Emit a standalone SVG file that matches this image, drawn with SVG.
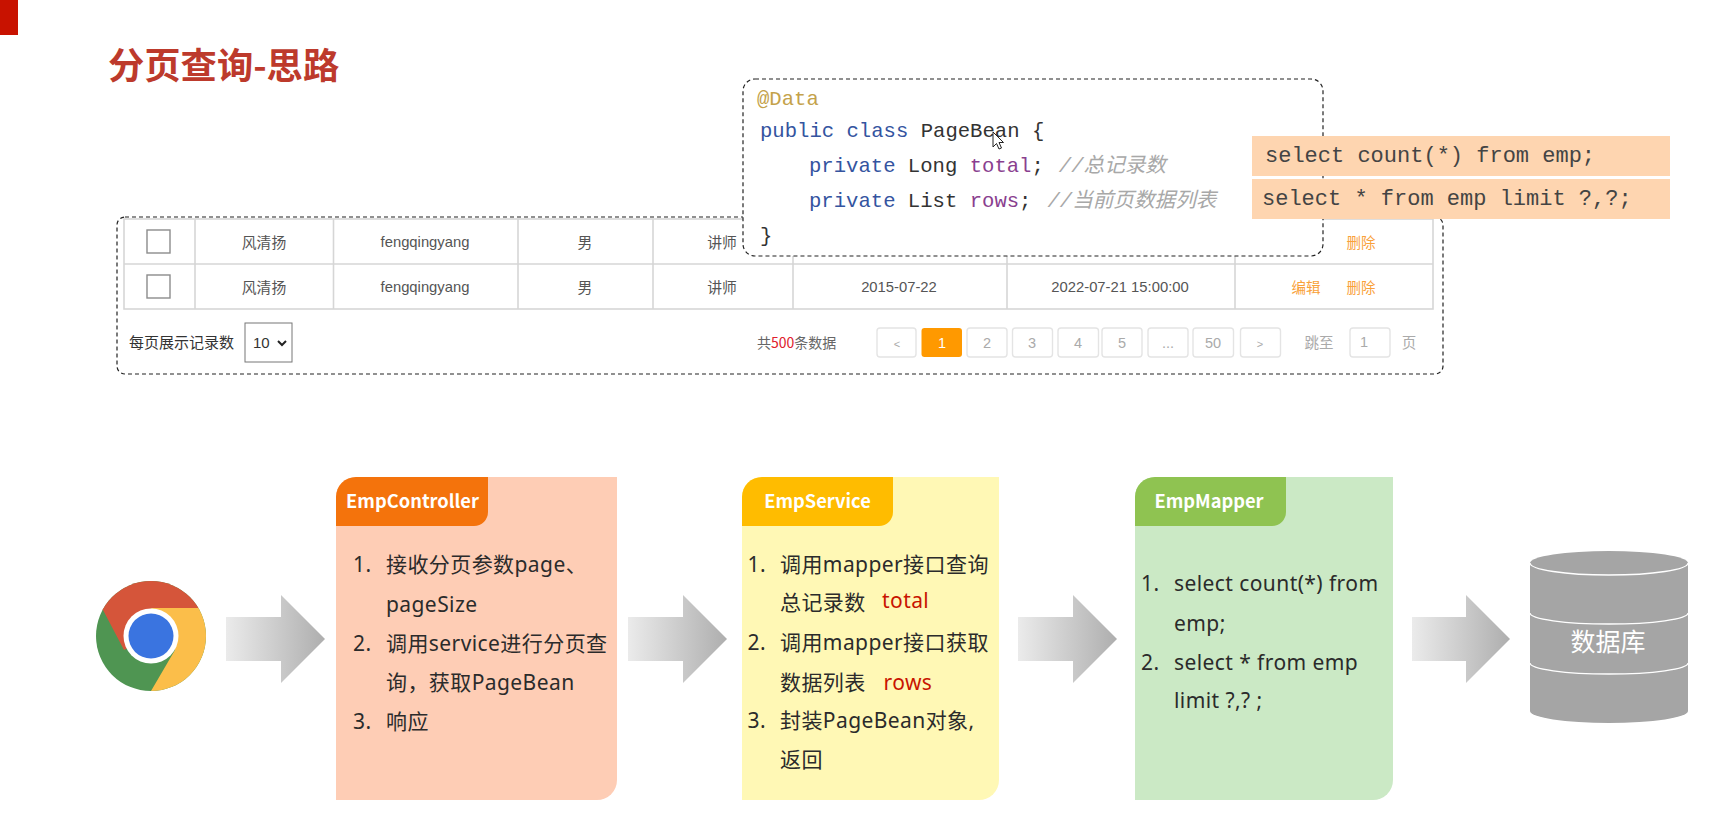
<svg xmlns="http://www.w3.org/2000/svg" width="1725" height="824" viewBox="0 0 1725 824">
<style>
text{font-family:"Noto Sans CJK SC","Noto Sans",sans-serif}
.dash{fill:#fff;stroke:#222;stroke-width:1.2;stroke-dasharray:4 3}
.grid{stroke:#d6d6d6;stroke-width:1.6;fill:none}
.cell{font-family:"Liberation Sans","Noto Sans CJK SC",sans-serif;font-size:14.8px;fill:#555;text-anchor:middle}
.op{font-family:"Noto Sans CJK SC",sans-serif;font-size:14.5px;fill:#f9a13a;text-anchor:middle}
.chk{fill:#fff;stroke:#8c8c8c;stroke-width:1.4}
.btn{fill:#fff;stroke:#e4e4e4;stroke-width:1.4}
.pg{font-family:"Liberation Sans","Noto Sans CJK SC",sans-serif;font-size:14.5px;fill:#aaa;text-anchor:middle}
.code{font-family:"Liberation Mono","Noto Sans CJK SC",monospace;font-size:20.6px;fill:#333}
.kw{fill:#34549f}.fld{fill:#8a3f8f}
.cm{fill:#a8a8a8;font-style:italic;font-size:20.6px}
.sql{font-family:"Liberation Mono",monospace;font-size:22px;fill:#444}
.sqlbox{fill:#fed5b0}
.hd{font-size:18.3px;font-weight:700;fill:#fff;text-anchor:middle}
.li{font-family:"Noto Sans","Noto Sans CJK SC",sans-serif;font-size:21px;letter-spacing:.42px;fill:#2b2b2b}
.red{font-family:"Noto Sans","Noto Sans CJK SC",sans-serif;font-size:21px;letter-spacing:.42px;fill:#c81400}
</style>
<defs>
<linearGradient id="ag" x1="0" x2="1" y1="0" y2="0"><stop offset="0" stop-color="#ebebeb"/><stop offset="1" stop-color="#aeaeae"/></linearGradient>
<clipPath id="cc"><circle cx="151" cy="636" r="55"/></clipPath>
</defs>

<rect x="0" y="0" width="18" height="35" fill="#c81200"/>
<text id="title" x="108" y="79" font-size="36.300" font-weight="700" fill="#bd3a2c">分页查询-思路</text>

<g id="table">
<rect class="dash" x="117" y="217" width="1326" height="157" rx="8"/>
<rect class="grid" x="124" y="219" width="1309" height="90"/>
<path class="grid" d="M124 264H1433M195 219V309M333.500 219V309M518 219V309M653 219V309M793 219V309M1007 219V309M1235 219V309"/>
<rect class="chk" x="147" y="230" width="23" height="23"/>
<rect class="chk" x="147" y="275" width="23" height="23"/>
<text class="cell" x="264" y="248">风清扬</text>
<text class="cell" x="425" y="247">fengqingyang</text>
<text class="cell" x="585" y="248">男</text>
<text class="cell" x="722" y="248">讲师</text>
<text class="op" x="1361" y="248">删除</text>
<text class="cell" x="264" y="293">风清扬</text>
<text class="cell" x="425" y="292">fengqingyang</text>
<text class="cell" x="585" y="293">男</text>
<text class="cell" x="722" y="293">讲师</text>
<text class="cell" x="899" y="292">2015-07-22</text>
<text class="cell" x="1120" y="292">2022-07-21 15:00:00</text>
<text class="op" x="1306" y="293">编辑</text>
<text class="op" x="1361" y="293">删除</text>
<text x="129" y="348" font-size="15" fill="#333">每页展示记录数</text>
<rect x="245" y="323" width="47" height="39" fill="#fff" stroke="#777" stroke-width="1"/>
<text x="253" y="348" font-size="15" fill="#333" style="font-family:'Liberation Sans',sans-serif">10</text>
<path d="M278 341l4 4 4-4" fill="none" stroke="#222" stroke-width="2"/>
<text x="757" y="348" font-size="14" fill="#666">共<tspan fill="#e0202c">500</tspan>条数据</text>
<rect class="btn" x="877" y="328" width="39" height="29" rx="3"/>
<rect x="921.500" y="328" width="40.500" height="29" rx="3" fill="#ff9900"/>
<rect class="btn" x="967" y="328" width="40" height="29" rx="3"/>
<rect class="btn" x="1012.500" y="328" width="40" height="29" rx="3"/>
<rect class="btn" x="1058" y="328" width="40.500" height="29" rx="3"/>
<rect class="btn" x="1102" y="328" width="40" height="29" rx="3"/>
<rect class="btn" x="1148" y="328" width="40" height="29" rx="3"/>
<rect class="btn" x="1193" y="328" width="40.500" height="29" rx="3"/>
<rect class="btn" x="1240.500" y="328" width="40" height="29" rx="3"/>
<text class="pg" x="897" y="348" style="font-size:11px">&lt;</text>
<text class="pg" x="942" y="348" style="fill:#fff">1</text>
<text class="pg" x="987" y="348">2</text>
<text class="pg" x="1032" y="348">3</text>
<text class="pg" x="1078" y="348">4</text>
<text class="pg" x="1122" y="348">5</text>
<text class="pg" x="1168" y="348">...</text>
<text class="pg" x="1213" y="348">50</text>
<text class="pg" x="1260" y="348" style="font-size:11px">&gt;</text>
<text class="pg" x="1319" y="348">跳至</text>
<rect class="btn" x="1350" y="328" width="40" height="29" rx="3"/>
<text class="pg" x="1364" y="347">1</text>
<text class="pg" x="1409" y="348">页</text>
</g>

<g id="pagebean">
<rect class="dash" x="743" y="79" width="580" height="177" rx="12"/>
<text class="code" x="757" y="105" style="fill:#c4a24a">@Data</text>
<text class="code" x="760" y="137"><tspan class="kw">public class</tspan> PageBean {</text>
<text class="code" x="809" y="172"><tspan class="kw">private</tspan> Long <tspan class="fld">total</tspan>;<tspan class="cm" dx="15">//总记录数</tspan></text>
<text class="code" x="809" y="207"><tspan class="kw">private</tspan> List <tspan class="fld">rows</tspan>;<tspan class="cm" dx="16">//当前页数据列表</tspan></text>
<text class="code" x="760" y="242">}</text>
<path d="M993 132v15l3.500-3.500 2.500 5.500 2.500-1-2.500-5.500h4.500z" fill="#fff" stroke="#222" stroke-width="1"/>
</g>

<g id="sql">
<rect class="sqlbox" x="1252" y="136" width="418" height="40"/>
<rect class="sqlbox" x="1252" y="179" width="418" height="40"/>
<text class="sql" x="1265" y="162">select count(*) from emp;</text>
<text class="sql" x="1262" y="205">select * from emp limit ?,?;</text>
</g>

<g id="browser" clip-path="url(#cc)">
<rect x="90" y="575" width="125" height="125" fill="#4f9552"/>
<path d="M151 691L215 691V575H198V608H151L175 650z" fill="#fbbe4a"/>
<path d="M103 610L124 650L151 636V608H198L215 608V575H90V610z" fill="#d5553a"/>
<circle cx="151" cy="636" r="27.500" fill="#fff"/>
<circle cx="151" cy="636" r="22.500" fill="#3a74e0"/>
</g>

<g id="connectors" fill="url(#ag)">
<path d="M226 617H281V595L325 639L281 683V661H226z"/>
<path d="M628 617H683V595L727 639L683 683V661H628z"/>
<path d="M1018 617H1073V595L1117 639L1073 683V661H1018z"/>
<path d="M1412 617H1466V595L1510 639L1466 683V661H1412z"/>
</g>

<g id="empcontroller">
<path d="M336 497a20 20 0 0 1 20-20H617V780a20 20 0 0 1-20 20H336z" fill="#fecdb5"/>
<path d="M336 497a20 20 0 0 1 20-20H488V512a14 14 0 0 1-14 14H336z" fill="#f4730c"/>
<text class="hd" x="412.500" y="508">EmpController</text>
<text class="li" x="353" y="572">1.</text><text class="li" x="386" y="572">接收分页参数page、</text>
<text class="li" x="386" y="612">pageSize</text>
<text class="li" x="353" y="651">2.</text><text class="li" x="386" y="651">调用service进行分页查</text>
<text class="li" x="386" y="690">询，获取PageBean</text>
<text class="li" x="353" y="729">3.</text><text class="li" x="386" y="729">响应</text>
</g>

<g id="empservice">
<path d="M742 497a20 20 0 0 1 20-20H999V780a20 20 0 0 1-20 20H742z" fill="#fff8b5"/>
<path d="M742 497a20 20 0 0 1 20-20H893V512a14 14 0 0 1-14 14H742z" fill="#ffbc00"/>
<text class="hd" x="817.500" y="508">EmpService</text>
<text class="li" x="747.500" y="572">1.</text><text class="li" x="780" y="572">调用mapper接口查询</text>
<text class="li" x="780" y="610">总记录数</text><text class="red" x="882" y="608">total</text>
<text class="li" x="747.500" y="650">2.</text><text class="li" x="780" y="650">调用mapper接口获取</text>
<text class="li" x="780" y="690">数据列表</text><text class="red" x="883.500" y="690">rows</text>
<text class="li" x="747.500" y="728">3.</text><text class="li" x="780" y="728">封装PageBean对象,</text>
<text class="li" x="780" y="767">返回</text>
</g>

<g id="empmapper">
<path d="M1135 497a20 20 0 0 1 20-20H1393V780a20 20 0 0 1-20 20H1135z" fill="#cbe9c5"/>
<path d="M1135 497a20 20 0 0 1 20-20H1286V512a14 14 0 0 1-14 14H1135z" fill="#8fc351"/>
<text class="hd" x="1209" y="508">EmpMapper</text>
<text class="li" x="1141" y="591">1.</text><text class="li" x="1174" y="591">select count(*) from</text>
<text class="li" x="1174" y="631">emp;</text>
<text class="li" x="1141" y="670">2.</text><text class="li" x="1174" y="670">select * from emp</text>
<text class="li" x="1174" y="708">limit ?,? ;</text>
</g>

<g id="database">
<path d="M1530 563a79 12 0 0 1 158 0V711a79 12 0 0 1-158 0z" fill="#a5a5a5"/>
<path d="M1530 563a79 12 0 0 0 158 0M1530 613a79 11 0 0 0 158 0M1530 663a79 11 0 0 0 158 0" fill="none" stroke="#fff" stroke-width="1.300"/>
<text x="1608" y="651" font-size="25" fill="#fff" text-anchor="middle">数据库</text>
</g>
</svg>
